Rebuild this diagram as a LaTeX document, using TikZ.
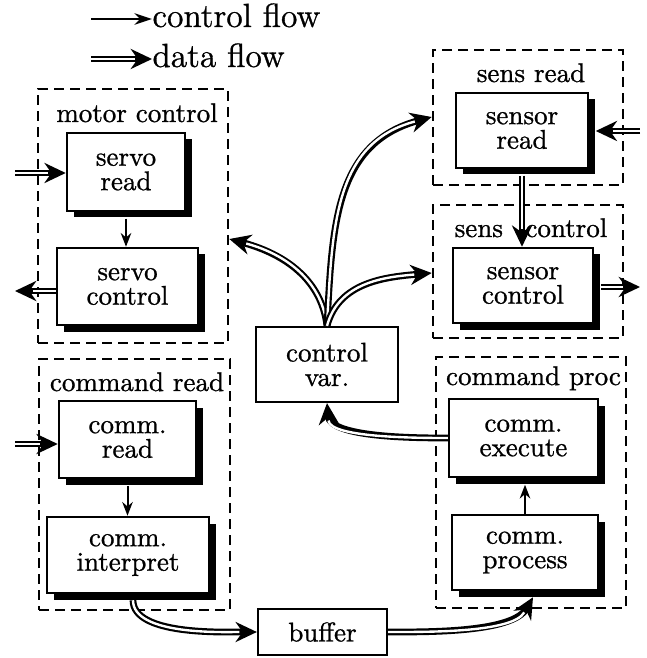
\documentclass[tikz,border=0pt]{standalone}
\usepackage{fontspec}
\setmainfont{Latin Modern Roman}[FakeBold=0.9]
\usetikzlibrary{arrows.meta,shadows,calc}
\begin{document}
\begin{tikzpicture}[x=0.4pt,y=0.4pt,
  txt/.style={font=\fontsize{10.8}{9.8}\selectfont},
  wh/.style 2 args={minimum width=#1*0.4pt, minimum height=#2*0.4pt},
  box/.style={draw, line width=1pt, fill=white, align=center, inner sep=0pt, txt,
    general shadow={fill=black, shadow xshift=2.6pt, shadow yshift=-2.6pt}},
  plainbox/.style={draw, line width=0.9pt, fill=white, align=center, inner sep=0pt, txt},
  grp/.style={draw, line width=1.05pt, dash pattern=on 4pt off 2.4pt, inner sep=0pt},
  glabel/.style={txt, inner sep=0pt, anchor=base},
  ctrl/.style={line width=0.8pt, -{Stealth[length=5.5pt,width=4.2pt]}},
  data/.style={line width=2.7pt, -{Stealth[length=8.5pt,width=8pt,inset=2.8pt]},
    postaction={draw=white, line width=0.95pt, -, shorten >=7pt}},
]
\useasboundingbox (0,0) rectangle (646,-658);

% groups
\node[grp, wh={190}{254}] (motorgrp) at (133,-216) {};
\node[grp, wh={190}{135}] (sreadgrp) at (528,-117.5) {};
\node[grp, wh={190}{133}] (sctrlgrp) at (528,-271.5) {};
\node[grp, wh={191}{251}] (creadgrp) at (134.5,-484.5) {};
\node[grp, wh={190}{251}] (cprocgrp) at (531,-482.5) {};

% group labels
\node[glabel] (lmotor) at (137,-122) {motor control};
\node[glabel] (lsread) at (531,-82) {sens read};
\node[glabel] (lsctrl) at (531,-237) {sens\hspace{9pt}control};
\node[glabel] (lcread) at (137,-391) {command read};
\node[glabel] (lcproc) at (533.5,-385) {command proc};

% boxes
\node[box, wh={118}{78}] (servoread) at (126,-172) {servo\\read};
\node[box, wh={141}{77}] (servoctrl) at (127.5,-286.5) {servo\\control};
\node[box, wh={132}{75}] (sensorread) at (522,-130.5) {sensor\\read};
\node[box, wh={140}{75}] (sensorctrl) at (523,-285.5) {sensor\\control};
\node[plainbox, wh={142}{75}] (cvar) at (327,-364.5) {control\\var.};
\node[box, wh={137}{77}] (commread) at (127.5,-439.5) {comm.\\read};
\node[box, wh={162}{76}] (comminterp) at (128,-555) {comm.\\interpret};
\node[box, wh={149}{78}] (commexec) at (523.5,-438) {comm.\\execute};
\node[box, wh={146}{75}] (commproc) at (525,-552.5) {comm.\\process};
\node[plainbox, wh={129}{46}] (buffer) at (322.5,-632) {buffer};

% legend
\coordinate (lc0) at (91,-19);
\node[font=\fontsize{13.4}{14}\selectfont, inner sep=0pt, anchor=base west] (lctrl) at (152,-27) {control flow};
\draw[ctrl, line width=0.9pt, -{Stealth[length=7pt,width=4.6pt]}] (lc0) -- (lctrl.west |- lc0);
\coordinate (ld0) at (91,-59);
\node[font=\fontsize{13.4}{14}\selectfont, inner sep=0pt, anchor=base west] (ldata) at (152,-67) {data flow};
\draw[data] (ld0) -- (ldata.west |- ld0);

% motor control
\coordinate (in1) at (15,-173);
\draw[data] (in1) -- (servoread.west |- in1);
\draw[ctrl] ([yshift=-2.6pt]servoread.south) -- (servoread.south |- servoctrl.north);
\coordinate (out1) at (15,-291);
\draw[data] (servoctrl.west |- out1) -- (out1);

% sensors
\coordinate (in2) at (640,-131);
\coordinate (sre) at ([xshift=2.6pt]sensorread.east);
\draw[data] (in2) -- (sre |- in2);
\draw[data] ([yshift=-2.6pt]sensorread.south) -- (sensorread.south |- sensorctrl.north);
\coordinate (out2) at (640,-287);
\coordinate (sce) at ([xshift=2.6pt]sensorctrl.east);
\draw[data] (sce |- out2) -- (out2);

% control var fan-out
\coordinate (ym) at (0,-239);
\coordinate (ys) at (0,-117);
\coordinate (yc) at (0,-273);
\coordinate (tm) at (motorgrp.east |- ym);
\coordinate (ts) at (sreadgrp.west |- ys);
\coordinate (tc) at (sctrlgrp.west |- yc);
\draw[data] (cvar.north) to[out=97,in=-15] (tm);
\draw[data] (cvar.north) to[out=87,in=195,looseness=1.1] (ts);
\draw[data] (cvar.north) to[out=75,in=185] (tc);

% command read
\coordinate (in3) at (15,-444);
\draw[data] (in3) -- (commread.west |- in3);
\draw[ctrl] ([yshift=-2.6pt]commread.south) -- (commread.south |- comminterp.north);
\draw[data] ($(comminterp.south)+(5,-6)$) to[out=-90,in=180,looseness=0.7] (buffer.west);

% command proc
\coordinate (bp) at ($(commproc.south)+(8,-6)$);
\draw[data] (buffer.east) to[out=0,in=-120,looseness=0.7] (bp);
\coordinate (ceb) at ([yshift=-2.6pt]commexec.south);
\draw[ctrl] (commproc.north) -- (commproc.north |- ceb);
\draw[data] (commexec.west) to[out=180,in=-85,looseness=0.7] (cvar.south);
\end{tikzpicture}
\end{document}
